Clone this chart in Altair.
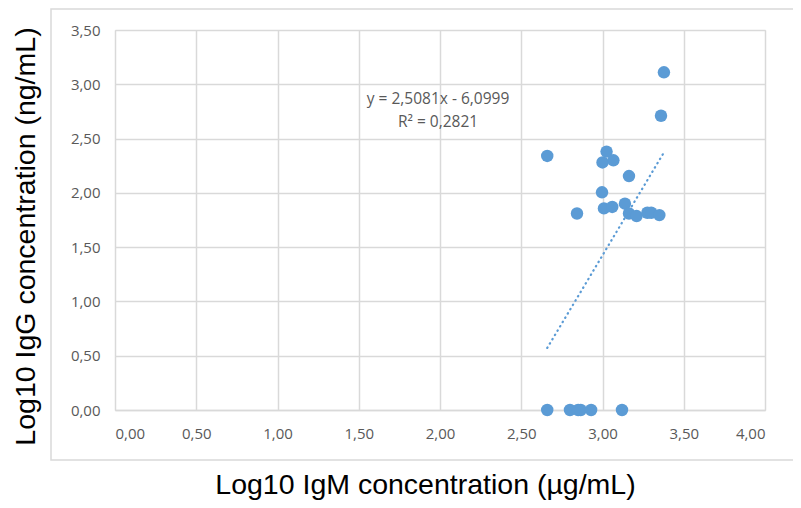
import altair as alt
import pandas as pd

# Data
igm = [3.378, 3.36, 2.66, 3.025, 3.00, 3.067, 3.163, 2.997, 3.009, 3.06, 2.843,
       3.138, 3.163, 3.21, 3.276, 3.30, 3.35,
       2.66, 2.80, 2.85, 2.866, 2.93, 3.12]
igg = [3.11, 2.71, 2.34, 2.38, 2.28, 2.30, 2.155, 2.005, 1.857, 1.87, 1.81,
       1.90, 1.81, 1.786, 1.817, 1.817, 1.795,
       0.0, 0.0, 0.0, 0.0, 0.0, 0.0]
slope = 2.5081
intercept = -6.0999
eq_lines = ["y = 2,5081x - 6,0999", "R\u00b2 = 0,2821"]
eq_x = [1.988, 1.988]
eq_y = [2.865, 2.653]

x_ticks = [0, 0.5, 1, 1.5, 2, 2.5, 3, 3.5, 4]
y_ticks = [0, 0.5, 1, 1.5, 2, 2.5, 3, 3.5]

pts = pd.DataFrame({"igm": igm, "igg": igg})
xmin, xmax = min(igm), max(igm)
trend = pd.DataFrame({"igm": [xmin, xmax],
                      "igg": [slope * xmin + intercept, slope * xmax + intercept]})
eq = pd.DataFrame({"t": eq_lines, "x": eq_x, "y": eq_y})

FONT = "Open Sans"
TFONT = "Liberation Sans"
lab_expr = "replace(format(datum.value, '.2f'), '.', ',')"

xscale = alt.Scale(domain=[0, 4], nice=False, zero=False)
yscale = alt.Scale(domain=[0, 3.5], nice=False, zero=False)

xaxis = alt.Axis(values=x_ticks, labelExpr=lab_expr, grid=True, gridColor="#D9D9D9",
                 gridWidth=1.5, domainColor="#D9D9D9", domainWidth=1.5,
                 ticks=False, labelColor="#595959",
                 labelFont=FONT, labelFontSize=15, labelPadding=16,
                 title="Log10 IgM concentration (µg/mL)", titleFont=TFONT,
                 titleFontSize=28.5, titleFontWeight="normal", titleColor="#000000",
                 titleX=310, titleY=83.5, titleBaseline="alphabetic", titleAnchor="middle")
yaxis = alt.Axis(values=y_ticks, labelExpr=lab_expr, grid=True, gridColor="#D9D9D9",
                 gridWidth=1.5, domain=False, ticks=False, labelColor="#595959",
                 labelFont=FONT, labelFontSize=15, labelPadding=15,
                 title="Log10  IgG concentration (ng/mL)", titleFont=TFONT,
                 titleFontSize=28.5, titleFontWeight="normal", titleColor="#000000",
                 titleX=-81, titleY=206, titleBaseline="alphabetic", titleAngle=-90)

border = alt.Chart(pd.DataFrame({"a": [0]})).mark_rect(
    fill=None, stroke="#D9D9D9", strokeWidth=1.5
).encode(x=alt.value(-64), x2=alt.value(700), y=alt.value(-21), y2=alt.value(430))

points = alt.Chart(pts).mark_circle(size=155, color="#5B9BD5", opacity=1).encode(
    x=alt.X("igm:Q", scale=xscale, axis=xaxis),
    y=alt.Y("igg:Q", scale=yscale, axis=yaxis),
)

line = alt.Chart(trend).mark_line(
    color="#5B9BD5", strokeWidth=2.2, strokeDash=[0.5, 4.5], strokeCap="round"
).encode(x=alt.X("igm:Q", scale=xscale), y=alt.Y("igg:Q", scale=yscale))

text = alt.Chart(eq).mark_text(font=FONT, fontSize=15.5, color="#595959", align="center",
                               baseline="middle").encode(
    x=alt.X("x:Q", scale=xscale), y=alt.Y("y:Q", scale=yscale), text="t:N")

chart = alt.layer(border, line, points, text).properties(
    width=650, height=380,
    autosize=alt.AutoSizeParams(type="none"),
    padding={"left": 107, "top": 22, "right": 28, "bottom": 90},
).configure_view(stroke=None).configure(background="white")

chart.save("out.html", embed_options={"renderer": "svg", "actions": False})
